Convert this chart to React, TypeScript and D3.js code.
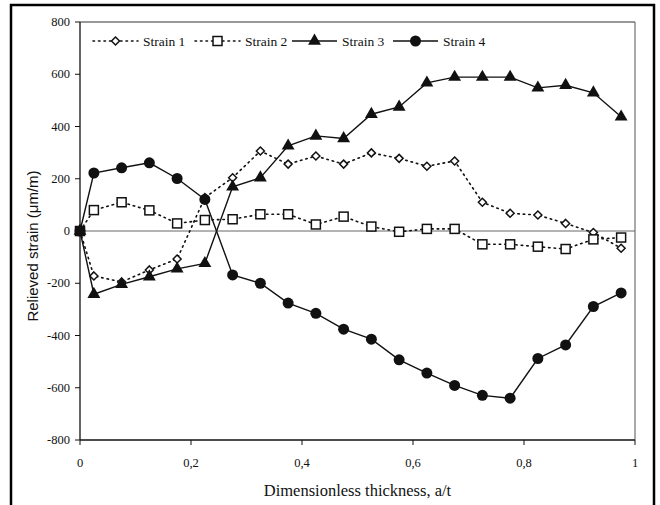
import React from "react";
import * as d3 from "d3";

const xs = [0, 0.025, 0.075, 0.125, 0.175, 0.225, 0.275, 0.325, 0.375, 0.425, 0.475, 0.525, 0.575, 0.625, 0.675, 0.725, 0.775, 0.825, 0.875, 0.925, 0.975];
const strain1 = [0, -172, -195, -149, -107, 128, 204, 306, 256, 287, 256, 299, 278, 248, 268, 110, 68, 61, 29, -6, -66];
const strain2 = [0, 80, 110, 79, 29, 42, 45, 64, 64, 25, 55, 17, -3, 8, 8, -51, -51, -60, -69, -32, -25];
const strain3 = [0, -242, -204, -175, -145, -124, 169, 204, 326, 364, 354, 447, 475, 567, 589, 589, 589, 548, 558, 529, 437];
const strain4 = [0, 222, 242, 261, 201, 121, -168, -200, -276, -315, -376, -414, -493, -544, -591, -629, -640, -488, -436, -289, -237];
const seriesNames = ["Strain 1", "Strain 2", "Strain 3", "Strain 4"];
const yTicks = [800, 600, 400, 200, 0, -200, -400, -600, -800];
const xTicks = [0, 0.2, 0.4, 0.6, 0.8, 1];
const xTickLabels = ["0", "0,2", "0,4", "0,6", "0,8", "1"];

const W = 660, H = 505;
const L = 80, R = 635, T = 22, B = 440;
const serif = "'Liberation Serif', 'Times New Roman', serif";
const sans = "'Liberation Sans', Arial, sans-serif";

function Marker({ kind, x, y }: { kind: string; x: number; y: number }) {
  if (kind === "diamond") {
    const s = 4;
    return <path d={`M${x},${y - s}L${x + s},${y}L${x},${y + s}L${x - s},${y}Z`} fill="white" stroke="#111" strokeWidth={1.5} />;
  }
  if (kind === "square") {
    const s = 4.5;
    return <rect x={x - s} y={y - s} width={2 * s} height={2 * s} fill="white" stroke="#111" strokeWidth={1.5} />;
  }
  if (kind === "triangle") {
    const sym = d3.symbol().type(d3.symbolTriangle).size(72)();
    return <path d={sym as string} transform={`translate(${x},${y})`} fill="#111" />;
  }
  return <circle cx={x} cy={y} r={5.5} fill="#111" />;
}

export default function App() {
  const x = d3.scaleLinear().domain([0, 1]).range([L, R]);
  const y = d3.scaleLinear().domain([-800, 800]).range([B, T]);
  const line = d3.line<[number, number]>().x((d) => x(d[0])).y((d) => y(d[1]));
  const series = [
    { name: seriesNames[0], vals: strain1, kind: "diamond", dashed: true },
    { name: seriesNames[1], vals: strain2, kind: "square", dashed: true },
    { name: seriesNames[2], vals: strain3, kind: "triangle", dashed: false },
    { name: seriesNames[3], vals: strain4, kind: "circle", dashed: false },
  ];
  const legendX = [93, 195, 292, 393];
  const legendY = 41;
  return (
    <svg width={W} height={H} style={{ position: "absolute", left: 0, top: 0, background: "white" }}>
      <rect x={0} y={0} width={W} height={H} fill="white" />
      <rect x={11} y={5} width={643} height={540} fill="none" stroke="#000" strokeWidth={2.5} />
      <line x1={L} x2={R} y1={T} y2={T} stroke="#333" strokeWidth={1} />
      <line x1={R} x2={R} y1={T} y2={B} stroke="#555" strokeWidth={1} />
      <line x1={L} x2={R} y1={y(0)} y2={y(0)} stroke="#666" strokeWidth={1} />
      <line x1={L} x2={L} y1={T} y2={B} stroke="#111" strokeWidth={1.3} />
      <line x1={L} x2={R} y1={B} y2={B} stroke="#111" strokeWidth={1.3} />
      {yTicks.map((t) => (
        <g key={t}>
          <line x1={L - 5} x2={L} y1={y(t)} y2={y(t)} stroke="#111" />
          <text x={L - 10} y={y(t) + 4} textAnchor="end" fontFamily={serif} fontSize={12.5} fill="#111">{t}</text>
        </g>
      ))}
      {xTicks.map((t, i) => (
        <g key={t}>
          <line x1={x(t)} x2={x(t)} y1={B} y2={B + 5} stroke="#111" />
          <text x={x(t)} y={B + 27} textAnchor="middle" fontFamily={serif} fontSize={12.5} fill="#111">{xTickLabels[i]}</text>
        </g>
      ))}
      <text x={(L + R) / 2} y={496} textAnchor="middle" fontFamily={serif} fontSize={16.5} fill="#111">Dimensionless thickness, a/t</text>
      <text transform={`translate(38,${(T + B) / 2 + 15}) rotate(-90)`} textAnchor="middle" fontFamily={sans} fontSize={15} fill="#111">Relieved strain (μm/m)</text>
      {series.map((s) => {
        const pts = xs.map((v, i) => [v, s.vals[i]] as [number, number]);
        return (
          <g key={s.name}>
            <path d={line(pts) as string} fill="none" stroke="#111" strokeWidth={s.dashed ? 1.6 : 1.4} strokeDasharray={s.dashed ? "1.5,4" : undefined} strokeLinecap={s.dashed ? "round" : "butt"} />
            {pts.map((p, i) => <Marker key={i} kind={s.kind} x={x(p[0])} y={y(p[1])} />)}
          </g>
        );
      })}
      {series.map((s, i) => (
        <g key={s.name}>
          <line x1={legendX[i]} x2={legendX[i] + 45} y1={legendY} y2={legendY} stroke="#111" strokeWidth={s.dashed ? 1.6 : 1.4} strokeDasharray={s.dashed ? "1.5,4" : undefined} strokeLinecap={s.dashed ? "round" : "butt"} />
          <Marker kind={s.kind} x={legendX[i] + 22.5} y={legendY} />
          <text x={legendX[i] + 50} y={legendY + 4.5} fontFamily={serif} fontSize={13.5} fill="#111">{s.name}</text>
        </g>
      ))}
    </svg>
  );
}
